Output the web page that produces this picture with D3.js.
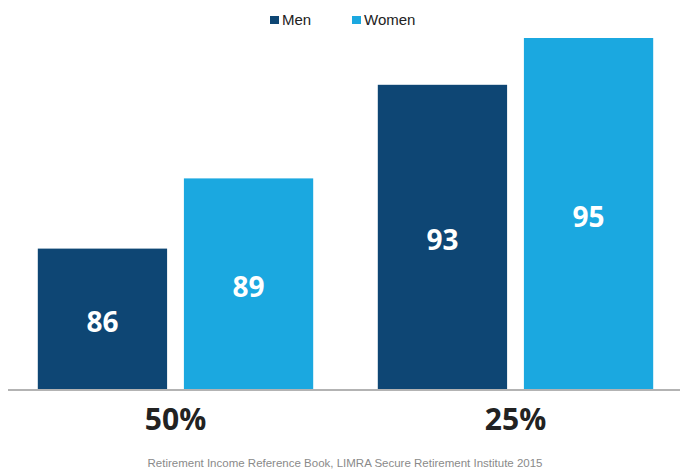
<!DOCTYPE html>
<html>
<head>
<meta charset="utf-8">
<script src="https://cdn.jsdelivr.net/npm/d3@7"></script>
<style>
  body { margin: 0; background: #fff; }
  svg { display: block; }
</style>
</head>
<body>
<svg id="chart" width="680" height="473"></svg>
<script>
let width = 680,
  height = 473;

// data
let categories = ["50%", "25%"]
let series = ["Men", "Women"]
let men = [86, 93]
let women = [89, 95]
let colors = ["#0e4674", "#1ba8e0"]
let source = "Retirement Income Reference Book, LIMRA Secure Retirement Institute 2015"

function make_rows() {
  return categories.map((c, i) => ({
    category: c,
    values: [
      { key: "Men", value: men[i] },
      { key: "Women", value: women[i] }
    ]
  }))
}

function make_scales() {
  let x0 = d3.scaleBand()
    .domain(categories)
    .range([5.5, 685.5])
    .paddingInner(0.19)
    .paddingOuter(0.095)
  let x1 = d3.scaleBand()
    .domain(series)
    .range([0, x0.bandwidth()])
    .paddingInner(0.115)
  return {
    x0: x0,
    x1: x1,
    y: d3.scaleLinear().domain([80, 96]).range([389, 389 - 16 * 23.4]),
    color: d3.scaleOrdinal().domain(series).range(colors)
  }
}

function draw() {
  let rows = make_rows()
  let s = make_scales()
  let svg = d3.select("#chart")

  let groups = svg.selectAll("g.group")
    .data(rows).enter()
    .append("g")
    .attr("class", "group")
    .attr("transform", d => `translate(${s.x0(d.category)},0)`)

  groups.selectAll("rect")
    .data(d => d.values).enter()
    .append("rect")
    .attr("x", d => s.x1(d.key))
    .attr("width", s.x1.bandwidth())
    .attr("y", d => s.y(d.value))
    .attr("height", d => s.y(80) - s.y(d.value))
    .attr("fill", d => s.color(d.key))

  groups.selectAll("text.val")
    .data(d => d.values).enter()
    .append("text")
    .attr("class", "val")
    .attr("x", d => s.x1(d.key) + s.x1.bandwidth() / 2)
    .attr("y", d => (s.y(d.value) + s.y(80)) / 2 + 13)
    .attr("text-anchor", "middle")
    .attr("fill", "#fff")
    .style("font", "bold 28px 'Open Sans', sans-serif")
    .text(d => d.value)

  // baseline
  svg.append("line")
    .attr("x1", 8).attr("x2", 680)
    .attr("y1", s.y(80) + 1).attr("y2", s.y(80) + 1)
    .attr("stroke", "#b3b3b3")
    .attr("stroke-width", 2)

  let xAxis = d3.axisBottom(s.x0).tickSize(0).tickPadding(0)
  let ax = svg.append("g")
    .attr("transform", "translate(0,409)")
    .call(xAxis)
  ax.select(".domain").remove()
  ax.selectAll("text")
    .attr("dy", "0.71em")
    .attr("fill", "#222")
    .style("font", "bold 30px 'Open Sans', sans-serif")

  // legend
  let legX = [270, 352]
  let leg = svg.selectAll("g.leg")
    .data(series).enter()
    .append("g")
    .attr("class", "leg")
    .attr("transform", (d, i) => `translate(${legX[i]},0)`)
  leg.append("rect")
    .attr("y", 16).attr("width", 9).attr("height", 8)
    .attr("fill", d => s.color(d))
  leg.append("text")
    .attr("x", 12).attr("y", 25)
    .attr("fill", "#222")
    .style("font", "15px 'Liberation Sans', Arial, sans-serif")
    .text(d => d)

  svg.append("text")
    .attr("x", 345).attr("y", 467)
    .attr("text-anchor", "middle")
    .attr("fill", "#8a8a8a")
    .style("font", "11.5px 'Liberation Sans', Arial, sans-serif")
    .text(source)
}

draw()
</script>
</body>
</html>
